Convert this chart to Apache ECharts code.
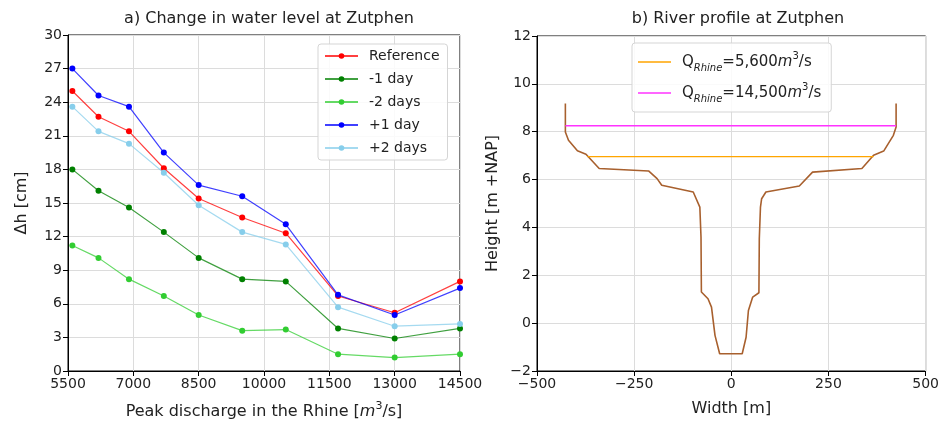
<!DOCTYPE html>
<html>
<head>
<meta charset="utf-8">
<script src="https://cdn.jsdelivr.net/npm/echarts@6/dist/echarts.min.js"></script>
<style>
  html, body { margin: 0; padding: 0; background: #fff; }
  #chart { width: 942px; height: 428px; }
</style>
</head>
<body>
<div id="chart"></div>
<script>
// peak discharge (m3/s) for panel a
const discharge = [5600, 6200, 6900, 7700, 8500, 9500, 10500, 11700, 13000, 14500];
const reference = [25.0, 22.7, 21.4, 18.1, 15.4, 13.7, 12.3, 6.7, 5.2, 8.0];
const minus1Day = [18.0, 16.1, 14.6, 12.4, 10.1, 8.2, 8.0, 3.8, 2.9, 3.8];
const minus2Days = [11.2, 10.1, 8.2, 6.7, 5.0, 3.6, 3.7, 1.5, 1.2, 1.5];
const plus1Day = [27.0, 24.6, 23.6, 19.5, 16.6, 15.6, 13.1, 6.8, 5.0, 7.4];
const plus2Days = [23.6, 21.4, 20.3, 17.7, 14.8, 12.4, 11.3, 5.7, 4.0, 4.2];

// river cross section for panel b
const profileWidth = [-427, -427, -419, -396, -374, -340, -213, -191, -179, -98, -81, -78, -77, -60, -51, -42, -30,
  28, 38, 44, 55, 71, 72, 75, 78, 89, 175, 209, 336, 366, 392, 417, 424, 424];
const profileHeight = [9.18, 7.99, 7.64, 7.2, 7.06, 6.46, 6.36, 6.04, 5.76, 5.48, 4.85, 3.6, 1.3, 1.02, 0.67, -0.51, -1.28,
  -1.28, -0.59, 0.53, 1.09, 1.27, 3.53, 4.85, 5.2, 5.48, 5.73, 6.31, 6.46, 7.02, 7.19, 7.85, 8.2, 9.18];
const lowWaterWidth = [-370, 366];
const lowWaterLevel = [6.96, 6.96];
const highWaterWidth = [-427, 424];
const highWaterLevel = [8.25, 8.25];

const font = "DejaVu Sans";
const chart = echarts.init(document.getElementById("chart"));

const pairs = (xs, ys) => xs.map((x, i) => [x, ys[i]]);

function dhSeries(name, values, color) {
  return {
    name: name,
    type: "line",
    xAxisIndex: 0,
    yAxisIndex: 0,
    data: pairs(discharge, values),
    symbol: "circle",
    symbolSize: 6,
    itemStyle: { color: color },
    lineStyle: { color: color, width: 1.2, opacity: 0.75 },
    animation: false,
  };
}

const axisCommon = {
  axisLine: { show: true, onZero: false, lineStyle: { color: "#000", width: 1 } },
  axisTick: { show: true, inside: false, length: 5, lineStyle: { color: "#000" } },
  splitLine: { show: true, lineStyle: { color: "#dcdcdc", width: 1 } },
  nameLocation: "middle",
  nameTextStyle: { color: "#222", fontSize: 16, fontFamily: font },
};

const minus = (v) => String(v).replace("-", "\u2212");

const richText = {
  a: { fontSize: 15, fontFamily: font, color: "#222", lineHeight: 22 },
  i: { fontSize: 15, fontFamily: font, fontStyle: "italic", color: "#222", lineHeight: 22 },
  sub: { fontSize: 10, fontFamily: font, fontStyle: "italic", color: "#222", lineHeight: 22, verticalAlign: "bottom", padding: [7, 0, 0, 0] },
  sup: { fontSize: 10, fontFamily: font, color: "#222", lineHeight: 22, verticalAlign: "top", padding: [0, 0, 7, 0] },
};

const option = {
  backgroundColor: "#fff",
  title: [
    { text: "a) Change in water level at Zutphen", left: 264, top: 6, textAlign: "center",
      textStyle: { fontSize: 16, fontWeight: "normal", color: "#222", fontFamily: font } },
    { text: "b) River profile at Zutphen", left: 733, top: 6, textAlign: "center",
      textStyle: { fontSize: 16, fontWeight: "normal", color: "#222", fontFamily: font } },
  ],
  grid: [
    { left: 68, right: 482, top: 35, bottom: 57, show: true, borderColor: "#000", borderWidth: 1, containLabel: false },
    { left: 537, right: 13, top: 36, bottom: 57, show: true, borderColor: "#000", borderWidth: 1, containLabel: false },
  ],
  legend: [
    {
      data: ["Reference", "-1 day", "-2 days", "+1 day", "+2 days"],
      orient: "vertical",
      left: 318,
      top: 44,
      itemWidth: 33,
      itemHeight: 7,
      itemGap: 9,
      padding: [5, 8, 5, 6],
      backgroundColor: "rgba(255,255,255,0.85)",
      borderColor: "#d5d5d5",
      borderWidth: 1,
      borderRadius: 3,
      textStyle: { fontSize: 14, fontFamily: font, color: "#222", padding: [0, 4, 0, 6] },
    },
    {
      data: ["low", "high"],
      orient: "vertical",
      left: 632,
      top: 43,
      icon: "rect",
      itemWidth: 33,
      itemHeight: 1.5,
      itemGap: 9,
      padding: [8, 10, 8, 6],
      backgroundColor: "rgba(255,255,255,0.85)",
      borderColor: "#d5d5d5",
      borderWidth: 1,
      borderRadius: 3,
      formatter: function (name) {
        const q = name === "low" ? "5,600" : "14,500";
        return "{a|Q}{sub|Rhine}{a|=" + q + "}{i|m}{sup|3}{a|/s}";
      },
      textStyle: { fontSize: 15, fontFamily: font, color: "#222", padding: [0, 0, 0, 6], rich: richText },
    },
  ],
  xAxis: [
    Object.assign({}, axisCommon, {
      gridIndex: 0, type: "value", min: 5500, max: 14500, interval: 1500,
      name: "Peak discharge in the Rhine [{i|m}{sup|3}/s]", nameGap: 30,
      nameTextStyle: { color: "#222", fontSize: 16, fontFamily: font,
        rich: {
          i: { fontSize: 16, fontFamily: font, fontStyle: "italic", color: "#222", lineHeight: 22 },
          sup: { fontSize: 11, fontFamily: font, color: "#222", lineHeight: 22, verticalAlign: "top", padding: [0, 0, 8, 0] },
        } },
      axisLabel: { color: "#222", fontSize: 14, fontFamily: font, margin: 6, formatter: (v) => String(v) },
    }),
    Object.assign({}, axisCommon, {
      gridIndex: 1, type: "value", min: -500, max: 500, interval: 250,
      name: "Width [m]", nameGap: 30,
      axisLabel: { color: "#222", fontSize: 14, fontFamily: font, margin: 6, formatter: minus },
    }),
  ],
  yAxis: [
    Object.assign({}, axisCommon, {
      gridIndex: 0, type: "value", min: 0, max: 30, interval: 3,
      name: "\u0394h [cm]", nameGap: 38,
      axisLabel: { color: "#222", fontSize: 14, fontFamily: font, margin: 6 },
    }),
    Object.assign({}, axisCommon, {
      gridIndex: 1, type: "value", min: -2, max: 12, interval: 2,
      name: "Height [m +NAP]", nameGap: 36,
      axisLabel: { color: "#222", fontSize: 14, fontFamily: font, margin: 6, formatter: minus },
    }),
  ],
  series: [
    dhSeries("Reference", reference, "#ff0000"),
    dhSeries("-1 day", minus1Day, "#008000"),
    dhSeries("-2 days", minus2Days, "#32cd32"),
    dhSeries("+1 day", plus1Day, "#0000ff"),
    dhSeries("+2 days", plus2Days, "#87ceeb"),
    {
      name: "profile",
      type: "line",
      xAxisIndex: 1,
      yAxisIndex: 1,
      data: pairs(profileWidth, profileHeight),
      symbol: "none",
      lineStyle: { color: "#a8602e", width: 1.6 },
      animation: false,
    },
    {
      name: "low",
      type: "line",
      xAxisIndex: 1,
      yAxisIndex: 1,
      data: pairs(lowWaterWidth, lowWaterLevel),
      symbol: "none",
      itemStyle: { color: "#ffa500" },
      lineStyle: { color: "#ffa500", width: 1.3 },
      animation: false,
    },
    {
      name: "high",
      type: "line",
      xAxisIndex: 1,
      yAxisIndex: 1,
      data: pairs(highWaterWidth, highWaterLevel),
      symbol: "none",
      itemStyle: { color: "#ff33ff" },
      lineStyle: { color: "#ff33ff", width: 1.3 },
      animation: false,
    },
  ],
};

option && chart.setOption(option);
</script>
</body>
</html>
